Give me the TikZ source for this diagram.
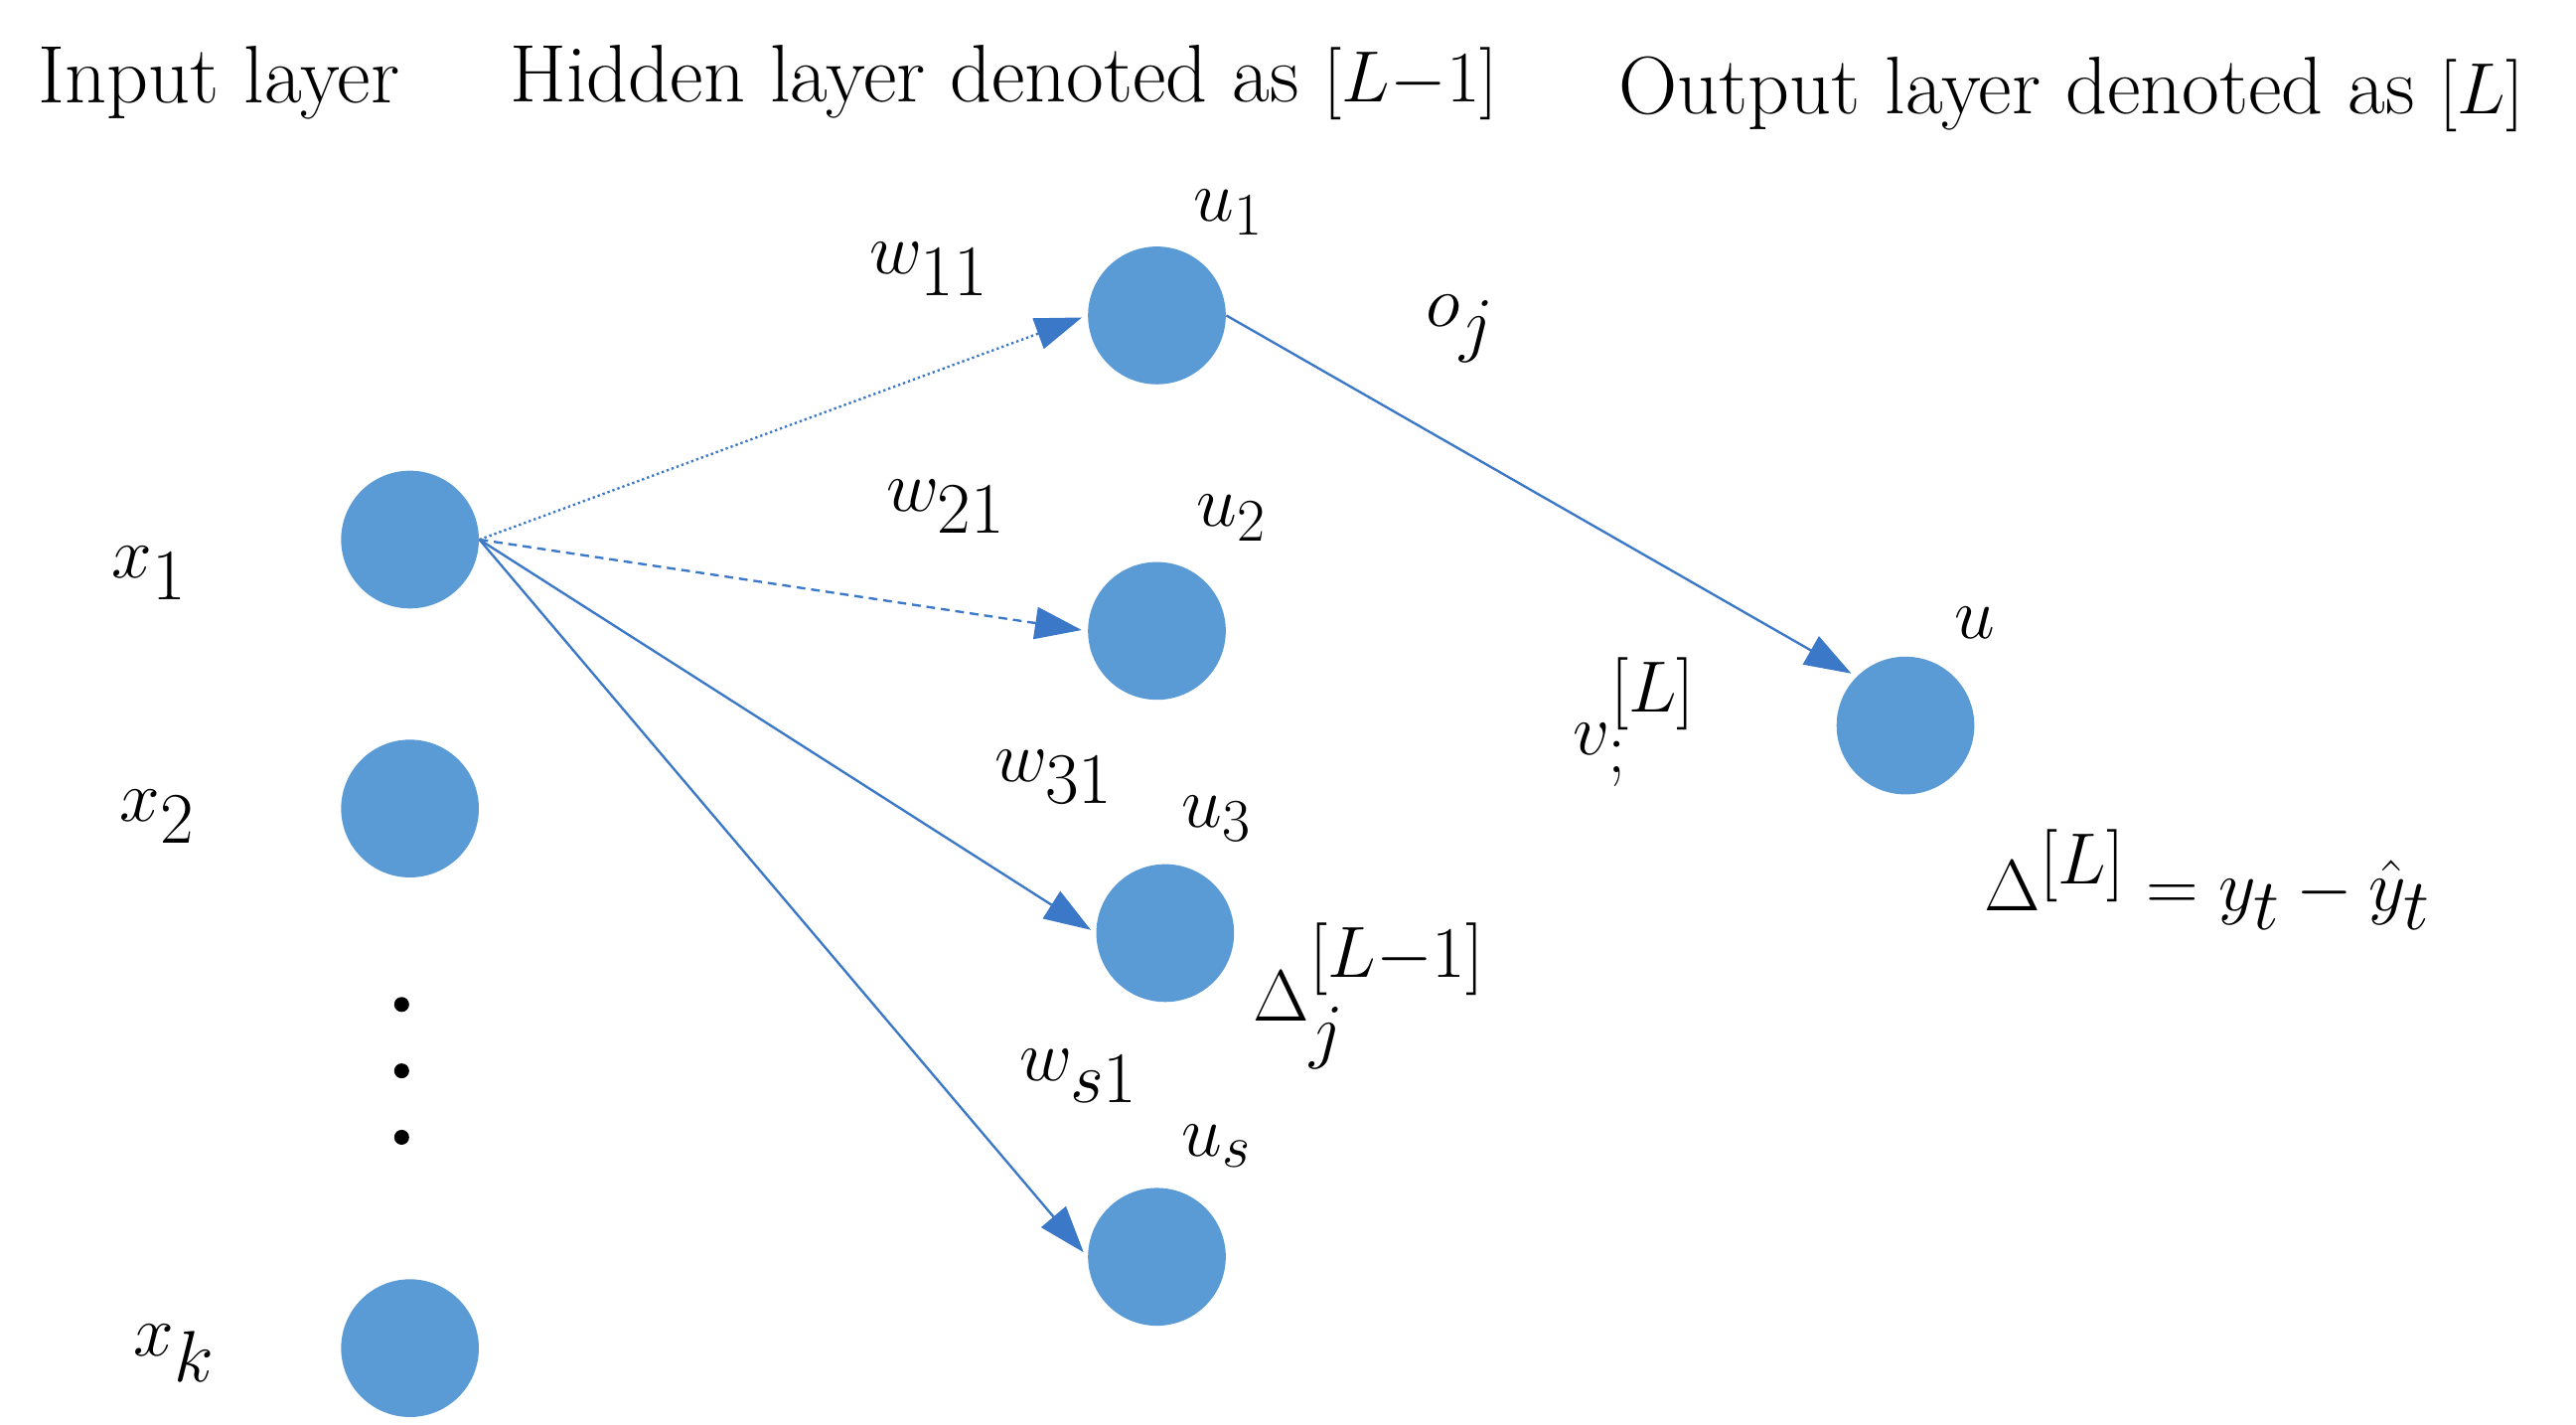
\documentclass[tikz,border=0pt]{standalone}
\usepackage{amsmath}
\usetikzlibrary{arrows.meta}
\definecolor{nb}{RGB}{91,155,213}
\definecolor{eb}{RGB}{60,120,200}
\begin{document}
\begin{tikzpicture}[x=0.02cm,y=-0.02cm,
 neuron/.style={circle,fill=nb,minimum size=1.66cm,inner sep=0pt},
 edge/.style={draw=eb,line width=0.8pt,-{Triangle[length=16pt,width=11pt]},shorten >=2pt},
 ttl/.style={font=\fontsize{28}{32}\selectfont},
 lab/.style={font=\fontsize{36}{42}\selectfont}]
\useasboundingbox (0,0) rectangle (1552,858);
\node[ttl] (t1) at (132,50) {Input layer};
\node[ttl] (t2) at (605,50) {Hidden layer denoted as $[L{-}1]$};
\node[ttl] (t3) at (1248,57) {Output layer denoted as $[L]$};
\node[neuron] (x1) at (247,325) {};
\node[neuron] (x2) at (247,487) {};
\node[neuron] (xk) at (247,812) {};
\foreach \i/\y in {1/605,2/645,3/685}{\fill (242,\y) circle (4.5);}
\node[neuron] (u1) at (697,190) {};
\node[neuron] (u2) at (697,380) {};
\node[neuron] (u3) at (702,562) {};
\node[neuron] (us) at (697,757) {};
\node[neuron] (u) at (1148,437) {};
\draw[edge,densely dotted] (x1.east) -- (u1.west);
\draw[edge,densely dashed] (x1.east) -- (u2.west);
\draw[edge] (x1.east) -- (u3.west);
\draw[edge] (x1.east) -- (us.west);
\draw[edge] (u1.east) -- (u.north west);
\node[lab] (lx1) at (90,345) {$x_1$};
\node[lab] (lx2) at (95,492) {$x_2$};
\node[lab] (lxk) at (105,815) {$x_k$};
\node[lab] (lw11) at (560,162) {$w_{11}$};
\node[lab] (lw21) at (570,305) {$w_{21}$};
\node[lab] (lw31) at (635,468) {$w_{31}$};
\node[lab] (lws1) at (650,648) {$w_{s1}$};
\node[lab,font=\fontsize{30}{36}\selectfont] (lu1) at (740,128) {$u_1$};
\node[lab,font=\fontsize{30}{36}\selectfont] (lu2) at (742,312) {$u_2$};
\node[lab,font=\fontsize{30}{36}\selectfont] (lu3) at (733,493) {$u_3$};
\node[lab,font=\fontsize{30}{36}\selectfont] (lu) at (1190,375) {$u$};
\node[lab,font=\fontsize{30}{36}\selectfont] (lus) at (733,690) {$u_s$};
\node[lab] (loj) at (880,198) {$o_j$};
\node[lab] (lv) at (985,435) {$v_{;}^{[L]}$};
\node[lab] (ldj) at (825,600) {$\Delta_j^{[L-1]}$};
\node[lab] (ld) at (1330,530) {$\Delta^{[L]}=y_t-\hat{y}_t$};
\end{tikzpicture}
\end{document}
